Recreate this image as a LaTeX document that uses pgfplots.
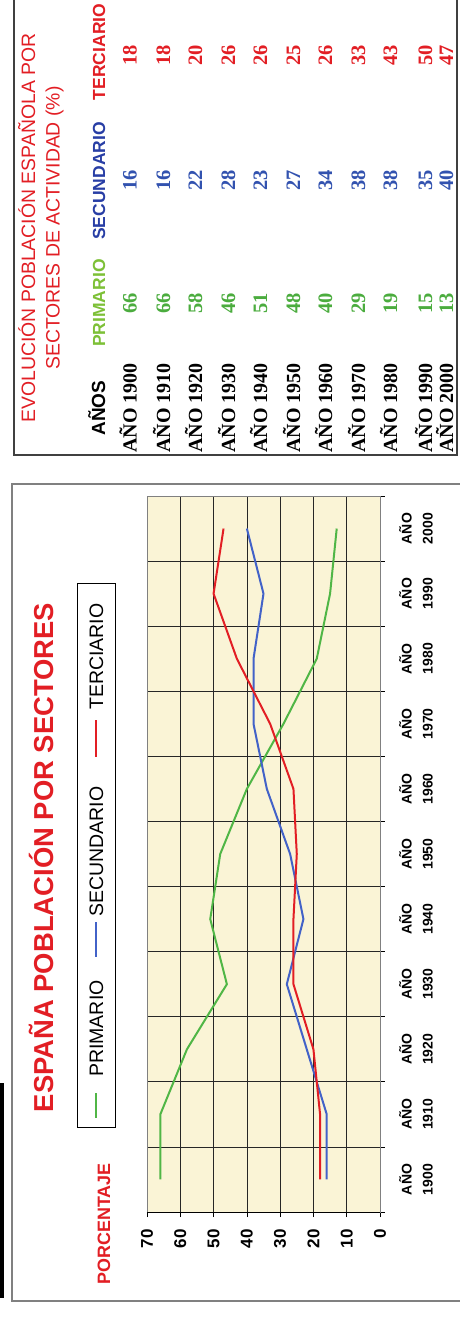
\documentclass[border=0pt]{standalone}
\usepackage{fontspec}
\setmainfont{Liberation Sans}
\newfontfamily\serif{Liberation Serif}
\usepackage{pgfplots}
\pgfplotsset{compat=1.18}
\definecolor{cream}{RGB}{250,244,214}
\definecolor{cgreen}{RGB}{80,182,70}
\definecolor{cblue}{RGB}{66,98,200}
\definecolor{cred}{RGB}{226,30,36}
\definecolor{tgreen}{RGB}{125,192,55}
\definecolor{tblue}{RGB}{40,62,165}
\definecolor{ngreen}{RGB}{75,172,62}
\definecolor{nblue}{RGB}{50,82,175}
\newcommand{\fs}[1]{\fontsize{#1}{#1}\selectfont}
\begin{document}
\begin{tikzpicture}[x=1pt,y=-1pt]
\path[use as bounding box] (0,0) rectangle (459,1318);
% frames
\fill[black] (0,1083) rectangle (3.5,1298);
\draw[black!50, line width=1.5pt] (470,484) -- (12,484) -- (12,1301) -- (470,1301);
\draw[black!75, line width=2pt] (14,-10) -- (14,455) -- (457,455) -- (457,-10);

\begin{axis}[at={(147pt,-1212pt)}, anchor=south west, scale only axis,
  width=233pt, height=716pt,
  xmin=0, xmax=70, x dir=reverse, ymin=1895, ymax=2005,
  xtick={0,10,...,70}, ytick={1895,1905,...,2005}, yticklabels={},
  grid=major, major grid style={black!85, line width=0.7pt},
  axis background/.style={fill=cream},
  axis line style={black!50, line width=0.8pt},
  tick align=outside, major tick length=5pt, tick style={black, line width=0.7pt},
  xtick pos=left, ytick pos=right, yticklabel pos=right,
  extra y ticks={1900,1910,...,2000},
  extra y tick labels={AÑO\\1900,AÑO\\1910,AÑO\\1920,AÑO\\1930,AÑO\\1940,AÑO\\1950,AÑO\\1960,AÑO\\1970,AÑO\\1980,AÑO\\1990,AÑO\\2000},
  extra y tick style={grid=none, major tick length=0pt, yticklabel shift=19pt,
    yticklabel style={rotate=90, anchor=north, align=center, inner sep=0pt,
      font=\bfseries\fontsize{14}{21}\selectfont}},
  xticklabel shift=12pt,
  xticklabel style={rotate=90, anchor=east, inner sep=0pt, font=\bfseries\fs{17}},
  /pgf/number format/assume math mode=true,
]
\addplot[cgreen, line width=2pt] coordinates {(66,1900) (66,1910) (58,1920) (46,1930) (51,1940) (48,1950) (40,1960) (29,1970) (19,1980) (15,1990) (13,2000)};
\addplot[cblue, line width=2pt] coordinates {(16,1900) (16,1910) (22,1920) (28,1930) (23,1940) (27,1950) (34,1960) (38,1970) (38,1980) (35,1990) (40,2000)};
\addplot[cred, line width=2pt] coordinates {(18,1900) (18,1910) (20,1920) (26,1930) (26,1940) (25,1950) (26,1960) (33,1970) (43,1980) (50,1990) (47,2000)};
\draw[black, line width=0.9pt] (axis cs:70,1895) -- (axis cs:0,1895) -- (axis cs:0,2005);
\end{axis}

% legend
\draw[black, line width=0.8pt] (77,583) rectangle (115,1127);
\draw[cgreen, line width=2pt] (96,1093) -- (96,1118);
\draw[cblue, line width=2pt] (96,922) -- (96,957);
\draw[cred, line width=2pt] (96,720) -- (96,757);
\node[rotate=90, anchor=base west, inner sep=0pt, font=\fs{19.5}] at (103,1077) {PRIMARIO};
\node[rotate=90, anchor=base west, inner sep=0pt, font=\fs{19.5}] at (103,917) {SECUNDARIO};
\node[rotate=90, anchor=base west, inner sep=0pt, font=\fs{19.5}] at (103,710) {TERCIARIO};

% titles
\node[rotate=90, anchor=base, inner sep=0pt, text=cred, font=\bfseries\fs{27.4}] at (53.5,857.5) {ESPAÑA POBLACIÓN POR SECTORES};
\node[rotate=90, anchor=base, inner sep=0pt, text=cred, font=\bfseries\fs{17.9}] at (110,1224) {PORCENTAJE};

% table
\node[rotate=90, anchor=base, inner sep=0pt, text=cred, font=\fs{19.4}] at (35,228) {EVOLUCIÓN POBLACIÓN ESPAÑOLA POR};
\node[rotate=90, anchor=base, inner sep=0pt, text=cred, font=\fs{19.4}] at (59.5,228) {SECTORES DE ACTIVIDAD (\%)};
\node[rotate=90, anchor=base, inner sep=0pt, text=black, font=\bfseries\fs{19}] at (105,408) {AÑOS};
\node[rotate=90, anchor=base, inner sep=0pt, text=tgreen, font=\bfseries\fs{17.5}] at (105,303) {PRIMARIO};
\node[rotate=90, anchor=base, inner sep=0pt, text=tblue, font=\bfseries\fs{17.5}] at (105,181) {SECUNDARIO};
\node[rotate=90, anchor=base, inner sep=0pt, text=cred, font=\bfseries\fs{17.5}] at (105,52) {TERCIARIO};
\foreach \b/\yr/\p/\s/\t in {136.5/1900/66/16/18, 170/1910/66/16/18, 202/1920/58/22/20, 235/1930/46/28/26, 267/1940/51/23/26, 300/1950/48/27/25, 332/1960/40/34/26, 365/1970/29/38/33, 397/1980/19/38/43, 432/1990/15/35/50, 453/2000/13/40/47}{
  \node[rotate=90, anchor=base, inner sep=0pt, font=\serif\bfseries\fs{20}] at (\b,408) {AÑO \yr};
  \node[rotate=90, anchor=base, inner sep=0pt, text=ngreen, font=\serif\bfseries\fs{20.5}] at (\b,303) {\p};
  \node[rotate=90, anchor=base, inner sep=0pt, text=nblue, font=\serif\bfseries\fs{20.5}] at (\b,180) {\s};
  \node[rotate=90, anchor=base, inner sep=0pt, text=cred, font=\serif\bfseries\fs{20.5}] at (\b,55) {\t};
}
\end{tikzpicture}
\end{document}
